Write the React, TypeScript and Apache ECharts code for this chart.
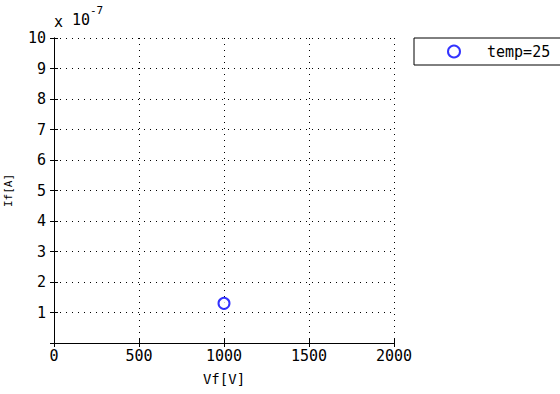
import React, { useEffect, useRef } from "react";
import * as echarts from "echarts";

const seriesName = "temp=25";
const vfValues = [1000];
const ifValues = [1.3e-7];
const xTicks = [0, 500, 1000, 1500, 2000];
const yScaleExp = -7;

const FONT = "DejaVu Sans Mono";

export default function App() {
  const ref = useRef<HTMLDivElement>(null);
  useEffect(() => {
    if (!ref.current) return;
    const chart = echarts.init(ref.current, null, { renderer: "svg" });
    const scale = Math.pow(10, yScaleExp);
    const data = vfValues.map((v, i) => [v, ifValues[i]]);
    const axisBase = {
      axisLine: { show: true, lineStyle: { color: "#000", width: 1 } },
      axisTick: { show: true, inside: true, length: 4, lineStyle: { color: "#000" } },
    };
    const dotted = { show: true, lineStyle: { color: "#000", type: [1, 5], width: 1 } };
    chart.setOption({
      animation: false,
      backgroundColor: "#fff",
      grid: {
        left: 54,
        right: 166,
        top: 38,
        bottom: 51,
        show: false,
        containLabel: false,
        outerBoundsMode: "none",
      },
      legend: {
        data: [seriesName],
        left: 414,
        top: 38,
        orient: "horizontal",
        borderColor: "#000",
        borderWidth: 1,
        padding: [6, 24, 6, 33],
        itemWidth: 12,
        itemHeight: 12,
        textStyle: { fontFamily: FONT, fontSize: 15, color: "#000", padding: [0, 0, 0, 22] },
      },
      xAxis: [
        {
          type: "value",
          min: xTicks[0],
          max: xTicks[xTicks.length - 1],
          interval: xTicks[1] - xTicks[0],
          position: "bottom",
          name: "Vf[V]",
          nameLocation: "middle",
          nameGap: 29,
          nameTextStyle: { fontFamily: FONT, fontSize: 14, color: "#000" },
          ...axisBase,
          axisLabel: {
            fontFamily: FONT,
            fontSize: 15,
            color: "#000",
            margin: 5,
            formatter: (v: number) => String(v),
          },
          splitLine: dotted,
        },
        {
          type: "value",
          min: xTicks[0],
          max: xTicks[xTicks.length - 1],
          interval: xTicks[1] - xTicks[0],
          position: "top",
          ...axisBase,
          axisLabel: { show: false },
          splitLine: { show: false },
        },
      ],
      yAxis: [
        {
          type: "value",
          min: 0,
          max: 10 * scale,
          interval: scale,
          position: "left",
          name: "If[A]",
          nameLocation: "middle",
          nameGap: 40,
          nameTextStyle: { fontFamily: FONT, fontSize: 11, color: "#000" },
          ...axisBase,
          axisLabel: {
            fontFamily: FONT,
            fontSize: 15,
            color: "#000",
            margin: 8,
            formatter: (v: number) => {
              const n = Math.round(v / scale);
              return n === 0 ? "" : String(n);
            },
          },
          splitLine: dotted,
        },
        {
          type: "value",
          min: 0,
          max: 10 * scale,
          interval: scale,
          position: "right",
          ...axisBase,
          axisLabel: { show: false },
          splitLine: { show: false },
        },
      ],
      graphic: [
        {
          type: "text",
          left: 54,
          top: 14,
          style: { text: "x", font: `15px ${FONT}`, fill: "#000" },
        },
        {
          type: "text",
          left: 72,
          top: 12,
          style: { text: "10", font: `15px ${FONT}`, fill: "#000" },
        },
        {
          type: "text",
          left: 90,
          top: 5,
          style: { text: String(yScaleExp), font: `11px ${FONT}`, fill: "#000" },
        },
      ],
      series: [
        {
          name: seriesName,
          type: "scatter",
          xAxisIndex: 0,
          yAxisIndex: 0,
          data,
          symbol: "emptyCircle",
          symbolSize: 11,
          itemStyle: { color: "#0000ff", borderColor: "#0000ff", borderWidth: 1.5 },
        },
      ],
    });
    return () => chart.dispose();
  }, []);
  return (
    <div
      ref={ref}
      style={{ position: "fixed", left: 0, top: 0, width: 560, height: 394, background: "#fff" }}
    />
  );
}
